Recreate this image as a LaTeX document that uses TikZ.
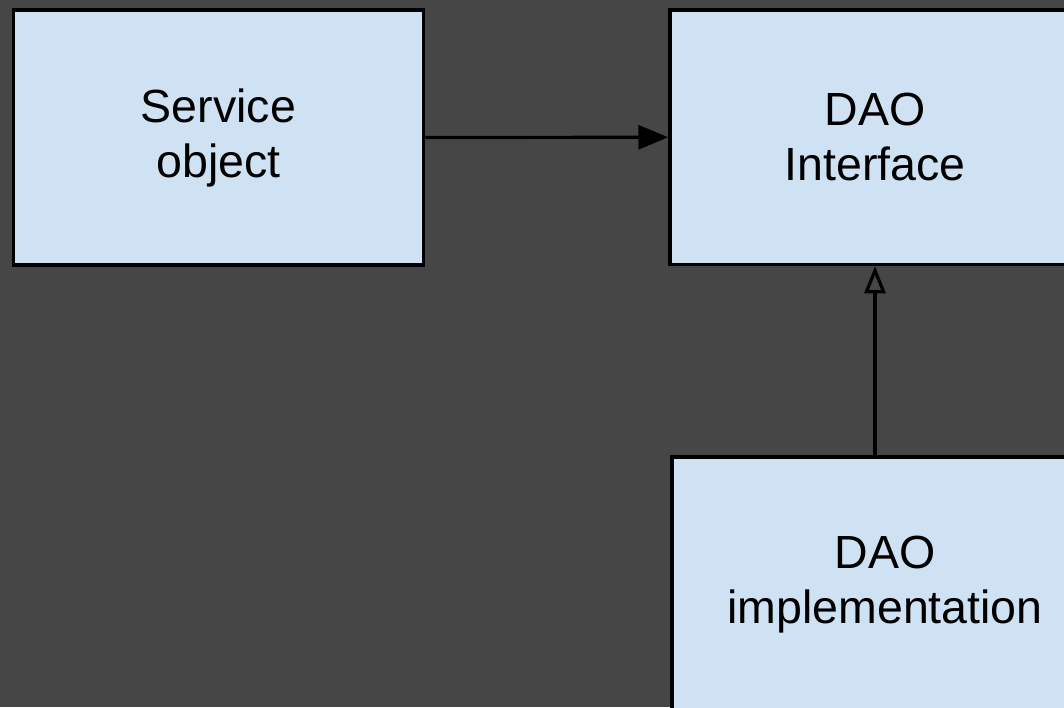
\documentclass[tikz,border=0pt]{standalone}
\usepackage{fontspec}
\setmainfont{Liberation Sans}
\usetikzlibrary{arrows.meta}
\definecolor{bg}{RGB}{70,70,70}
\definecolor{boxfill}{RGB}{207,226,243}
\tikzset{
  x=1pt, y=-1pt,
  block/.style={draw=black, fill=boxfill, line width=3.5pt, rectangle,
    inner sep=0pt, align=center,
    font=\fontsize{46.5}{55}\selectfont},
  link/.style={draw=black, line width=3.2pt},
}
\begin{document}
\begin{tikzpicture}
  % canvas
  \useasboundingbox (0,0) rectangle (1064,707);
  \clip (0,0) rectangle (1064,707);
  \fill[bg] (0,0) rectangle (1064,707);

  % components
  \node[block, minimum width=410pt, minimum height=255pt] (svc) at (218.5,137.5) {Service\\object};
  \node[block, minimum width=410pt, minimum height=254.5pt] (dao) at (875,137.25) {DAO\\Interface};
  \node[block, minimum width=426pt, minimum height=256pt] (impl) at (885,585) {DAO\\implementation};

  % usage
  \draw[link, -{Triangle[length=30pt,width=24pt]}] (svc.east) -- (dao.west);
  % realisation
  \draw[link, -{Triangle[open,length=27pt,width=21pt]}] (dao.south |- impl.north) -- (dao.south);
\end{tikzpicture}
\end{document}
